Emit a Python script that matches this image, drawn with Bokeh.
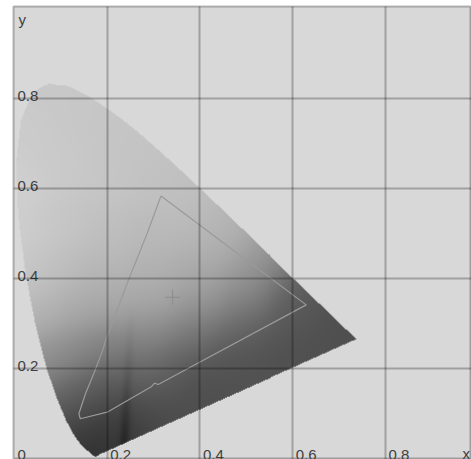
import numpy as np
from bokeh.plotting import figure
from bokeh.models import Range1d, FixedTicker
from bokeh.core.properties import value
from bokeh.embed import file_html
from bokeh.resources import INLINE

# CIE 1931 spectral locus (380-700 nm, 5 nm steps)
locus_x = [0.1741, 0.1740, 0.1738, 0.1736, 0.1733, 0.1730, 0.1726, 0.1721, 0.1714, 0.1703,
           0.1689, 0.1669, 0.1644, 0.1611, 0.1566, 0.1510, 0.1440, 0.1355, 0.1241, 0.1096,
           0.0913, 0.0687, 0.0454, 0.0235, 0.0082, 0.0039, 0.0139, 0.0389, 0.0743, 0.1142,
           0.1547, 0.1929, 0.2296, 0.2658, 0.3016, 0.3373, 0.3731, 0.4087, 0.4441, 0.4788,
           0.5125, 0.5448, 0.5752, 0.6029, 0.6270, 0.6482, 0.6658, 0.6801, 0.6915, 0.7006,
           0.7079, 0.7140, 0.7190, 0.7230, 0.7260, 0.7283, 0.7300, 0.7311, 0.7320, 0.7327,
           0.7334, 0.7340, 0.7344, 0.7346, 0.7347]
locus_y = [0.0050, 0.0050, 0.0049, 0.0049, 0.0048, 0.0048, 0.0048, 0.0048, 0.0051, 0.0058,
           0.0069, 0.0086, 0.0109, 0.0138, 0.0177, 0.0227, 0.0297, 0.0399, 0.0578, 0.0868,
           0.1327, 0.2007, 0.2950, 0.4127, 0.5384, 0.6548, 0.7502, 0.8120, 0.8338, 0.8262,
           0.8059, 0.7816, 0.7543, 0.7243, 0.6923, 0.6589, 0.6245, 0.5896, 0.5547, 0.5202,
           0.4866, 0.4544, 0.4242, 0.3965, 0.3725, 0.3514, 0.3340, 0.3197, 0.3083, 0.2993,
           0.2920, 0.2859, 0.2809, 0.2770, 0.2740, 0.2717, 0.2700, 0.2689, 0.2680, 0.2673,
           0.2666, 0.2660, 0.2656, 0.2654, 0.2653]

# gamut triangle outline
gamut_x = [0.316, 0.400, 0.629, 0.310, 0.302, 0.295, 0.200, 0.142, 0.139, 0.153, 0.171, 0.189, 0.199, 0.247, 0.286, 0.316]
gamut_y = [0.584, 0.519, 0.342, 0.165, 0.168, 0.160, 0.1036, 0.089, 0.100, 0.144, 0.189, 0.237, 0.270, 0.400, 0.500, 0.584]

# white point
white_x = [0.341]
white_y = [0.359]

# grey shade anchors (x, y, grey level)
shade_x = [0.07, 0.02, 0.12, 0.20, 0.28,
           0.01, 0.10, 0.20, 0.30, 0.36,
           0.02, 0.10, 0.20, 0.30, 0.40, 0.46,
           0.03, 0.10, 0.20, 0.30, 0.40, 0.50, 0.54,
           0.05, 0.12, 0.20, 0.30, 0.40, 0.50, 0.58, 0.62,
           0.07, 0.13, 0.20, 0.30, 0.40, 0.50, 0.60, 0.68, 0.72,
           0.10, 0.15, 0.20, 0.28, 0.35, 0.45, 0.55, 0.65,
           0.12, 0.17, 0.22, 0.30, 0.40, 0.50, 0.60,
           0.16, 0.20, 0.25, 0.33, 0.42, 0.174]
shade_y = [0.83, 0.75, 0.78, 0.74, 0.68,
           0.60, 0.65, 0.62, 0.60, 0.60,
           0.50, 0.52, 0.50, 0.50, 0.52, 0.48,
           0.40, 0.42, 0.42, 0.42, 0.42, 0.42, 0.42,
           0.32, 0.33, 0.34, 0.35, 0.35, 0.36, 0.37, 0.35,
           0.22, 0.24, 0.25, 0.27, 0.28, 0.29, 0.31, 0.29, 0.27,
           0.14, 0.15, 0.16, 0.18, 0.20, 0.22, 0.24, 0.25,
           0.08, 0.08, 0.10, 0.12, 0.15, 0.18, 0.21,
           0.03, 0.04, 0.06, 0.09, 0.12, 0.005]
shade_g = [200, 204, 200, 198, 196,
           208, 202, 198, 194, 192,
           206, 198, 192, 186, 186, 178,
           200, 190, 182, 178, 172, 158, 146,
           180, 172, 168, 168, 154, 132, 98, 88,
           150, 138, 128, 136, 118, 102, 88, 80, 78,
           108, 98, 92, 108, 94, 84, 82, 80,
           76, 66, 66, 80, 80, 82, 80,
           52, 52, 60, 74, 78, 44]

x_ticks = [0.0, 0.2, 0.4, 0.6, 0.8]
x_tick_labels = ["0", "0.2", "0.4", "0.6", "0.8"]
y_ticks = [0.2, 0.4, 0.6, 0.8]
y_tick_labels = ["0.2", "0.4", "0.6", "0.8"]
grid_ticks = [0.2, 0.4, 0.6, 0.8]

# ---- shaded chromaticity image ----
IX0, IY0, IDW, IDH = 0.0, 0.0, 0.75, 0.85
NX, NY = 350, 383
xs = IX0 + (np.arange(NX) + 0.5) * IDW / NX
ys = IY0 + (np.arange(NY) + 0.5) * IDH / NY
GX, GY = np.meshgrid(xs, ys)

px = np.array(locus_x)
py = np.array(locus_y)
inside = np.zeros(GX.shape, dtype=bool)
n = len(px)
for i in range(n):
    x1, y1 = px[i], py[i]
    x2, y2 = px[(i + 1) % n], py[(i + 1) % n]
    cond = (y1 > GY) != (y2 > GY)
    with np.errstate(divide="ignore", invalid="ignore"):
        xint = (x2 - x1) * (GY - y1) / (y2 - y1) + x1
    inside ^= cond & (GX < xint)

ax = np.array(shade_x)[:, None, None]
ay = np.array(shade_y)[:, None, None]
ag = np.array(shade_g, dtype=float)[:, None, None]
sig = 0.045
w = np.exp(-((GX[None] - ax) ** 2 + (GY[None] - ay) ** 2) / (2 * sig ** 2)) + 1e-12
grey = (w * ag).sum(0) / w.sum(0)
# dark streak near x ~ 0.24
xr = 0.235 + 0.05 * GY
amp = 22 * np.clip(1 - GY / 0.35, 0, 1)
grey = grey - amp * np.exp(-((GX - xr) / 0.010) ** 2)
grey = np.clip(grey, 0, 255).astype(np.uint8)

img = np.zeros((NY, NX), dtype=np.uint32)
v = img.view(dtype=np.uint8).reshape((NY, NX, 4))
v[..., 0] = grey
v[..., 1] = grey
v[..., 2] = grey
v[..., 3] = np.where(inside, 255, 0)

p = figure(width=471, height=459, output_backend="svg", toolbar_location=None,
           x_range=Range1d(-0.0019, 0.9853), y_range=Range1d(-0.0016, 1.0051),
           x_axis_location=None, y_axis_location=None,
           min_border_left=13, min_border_right=0, min_border_top=6, min_border_bottom=0)
p.background_fill_color = "#d8d8d8"
p.border_fill_color = "white"
p.outline_line_color = "black"
p.outline_line_alpha = 0.27
p.outline_line_width = 2

p.image_rgba(image=[img], x=IX0, y=IY0, dw=IDW, dh=IDH)

p.line(gamut_x, gamut_y, line_color="#9a9a9a", line_width=1.2)
p.scatter(white_x, white_y, marker="cross", size=15, line_color="#8c8c8c", line_width=1)

for g in (p.xgrid, p.ygrid):
    g.ticker = FixedTicker(ticks=grid_ticks)
    g.grid_line_color = "black"
    g.grid_line_alpha = 0.26
    g.grid_line_width = 2
    g.level = "overlay"

font = value("Liberation Sans")
p.text(x=x_ticks, y=[0] * len(x_ticks), text=x_tick_labels, x_offset=3, y_offset=-4,
       text_font=font, text_font_size="15px", text_color="#404040", text_baseline="alphabetic")
p.text(x=[0] * len(y_ticks), y=y_ticks, text=y_tick_labels, x_offset=3, y_offset=-3,
       text_font=font, text_font_size="15px", text_color="#404040", text_baseline="alphabetic")
p.text(x=[0.966], y=[0], text=["x"], x_offset=0, y_offset=-5,
       text_font=font, text_font_size="15px", text_color="#404040", text_baseline="alphabetic")
p.text(x=[0], y=[1.0], text=["y"], x_offset=4, y_offset=11,
       text_font=font, text_font_size="15px", text_color="#404040", text_baseline="alphabetic")

open("out.html", "w").write(file_html(p, INLINE))
